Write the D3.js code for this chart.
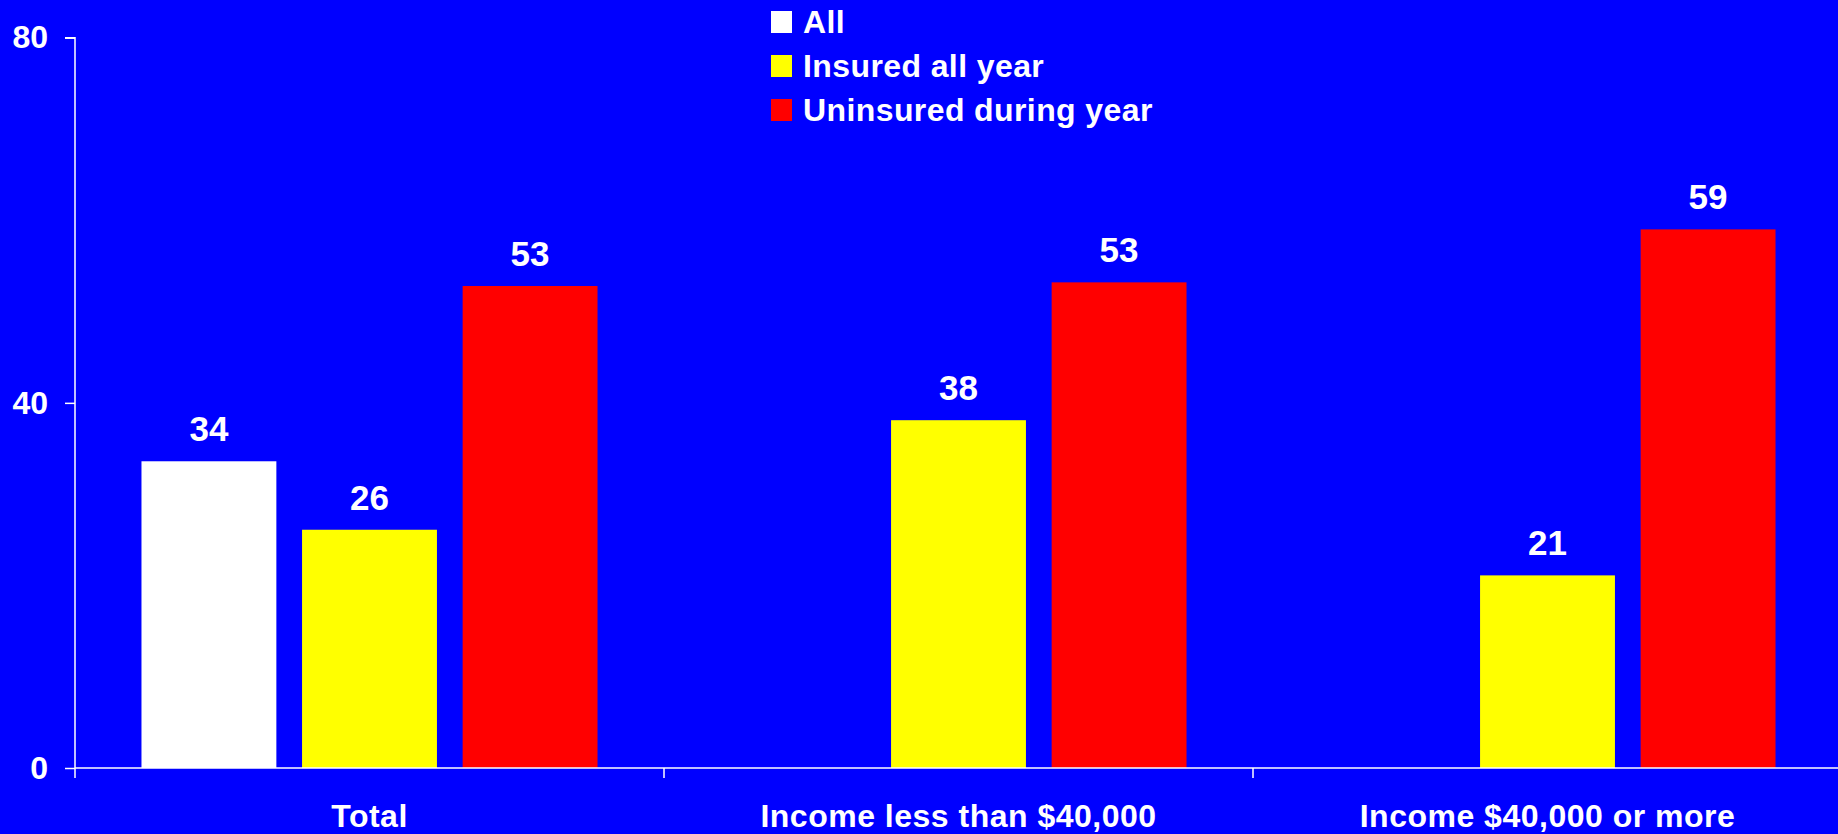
<!DOCTYPE html>
<html>
<head>
<meta charset="utf-8">
<script src="https://cdn.jsdelivr.net/npm/d3@7"></script>
<style>
  html, body { margin: 0; padding: 0; background: #0000ff; overflow: hidden; }
  text { font-family: "Liberation Sans", Arial, Helvetica, sans-serif; font-weight: bold; fill: #fff; }
</style>
</head>
<body>
<svg width="1838" height="834"></svg>
<script>
var categories = ['Total', 'Income less than $40,000', 'Income $40,000 or more'];
var seriesNames = ['All', 'Insured all year', 'Uninsured during year'];
var seriesColors = ['#ffffff', '#ffff00', '#ff0000'];
// values, null = no bar
var allValues = [33.6, null, null];
var insuredValues = [26.1, 38.1, 21.1];
var uninsuredValues = [52.8, 53.2, 59.0];
var yTicks = [0, 40, 80];

var app = {
    width: 1838,
    height: 834,
    left: 75,
    right: 1842,
    top: 37.7,
    bottom: 768
}

var svg = d3.select('svg');

var x0 = d3.scaleBand()
    .domain(categories)
    .range([app.left, app.right])
    .padding(0);

var x1 = d3.scaleBand()
    .domain(seriesNames)
    .range([0, x0.bandwidth()])
    .paddingInner(0.16)
    .paddingOuter(0.414);

var y = d3.scaleLinear()
    .domain([0, 80])
    .range([app.bottom, app.top]);

var color = d3.scaleOrdinal().domain(seriesNames).range(seriesColors);

var rows = [];
categories.forEach(function(c, i) {
    [allValues, insuredValues, uninsuredValues].forEach(function(arr, j) {
        if (arr[i] !== null) rows.push({ cat: c, series: seriesNames[j], value: arr[i] });
    });
});

// bars
svg.append('g').selectAll('rect')
    .data(rows)
    .enter().append('rect')
    .attr('x', function(d) { return x0(d.cat) + x1(d.series) })
    .attr('y', function(d) { return y(d.value) })
    .attr('width', x1.bandwidth())
    .attr('height', function(d) { return y(0) - y(d.value) })
    .attr('fill', function(d) { return color(d.series) });

// value labels
svg.append('g').selectAll('text')
    .data(rows)
    .enter().append('text')
    .attr('x', function(d) { return x0(d.cat) + x1(d.series) + x1.bandwidth() / 2 })
    .attr('y', function(d) { return y(d.value) - 20 })
    .attr('text-anchor', 'middle')
    .style('font-size', '35px')
    .text(function(d) { return d3.format('.0f')(d.value) });

// y axis
var yAxis = svg.append('g')
    .attr('transform', 'translate(' + app.left + ',0)')
    .call(d3.axisLeft(y).tickValues(yTicks).tickSize(10).tickPadding(17).tickFormat(d3.format('d')));
yAxis.selectAll('line, path').attr('stroke', '#fff').attr('stroke-width', 1.5);
yAxis.select('.domain').attr('d', 'M-10,' + y(80) + 'H0V' + y(0));
yAxis.selectAll('text')
    .style('font-size', '32px')
    .style('font-family', '"Liberation Sans", Arial, sans-serif')
    .style('font-weight', 'bold')
    .attr('fill', '#fff');

// x axis: line with ticks at category boundaries
var xAxis = svg.append('g');
xAxis.append('line')
    .attr('x1', app.left).attr('x2', app.width)
    .attr('y1', y(0)).attr('y2', y(0))
    .attr('stroke', '#fff').attr('stroke-width', 1.5);
xAxis.selectAll('.tick')
    .data(categories)
    .enter().append('line')
    .attr('x1', function(d) { return x0(d) })
    .attr('x2', function(d) { return x0(d) })
    .attr('y1', y(0)).attr('y2', y(0) + 10)
    .attr('stroke', '#fff').attr('stroke-width', 1.5);
xAxis.selectAll('text')
    .data(categories)
    .enter().append('text')
    .attr('x', function(d) { return x0(d) + x0.bandwidth() / 2 })
    .attr('y', 827)
    .attr('text-anchor', 'middle')
    .style('font-size', '32px')
    .style('letter-spacing', '0.5px')
    .text(function(d) { return d });

// legend
var legend = svg.append('g').attr('transform', 'translate(771,11)');
var item = legend.selectAll('g')
    .data(seriesNames)
    .enter().append('g')
    .attr('transform', function(d, i) { return 'translate(0,' + (i * 44) + ')' });
item.append('rect')
    .attr('width', 21).attr('height', 22)
    .attr('fill', function(d) { return color(d) });
item.append('text')
    .attr('x', 32)
    .attr('y', 22)
    .style('font-size', '32px')
    .style('letter-spacing', '0.4px')
    .text(function(d) { return d });
</script>
</body>
</html>
